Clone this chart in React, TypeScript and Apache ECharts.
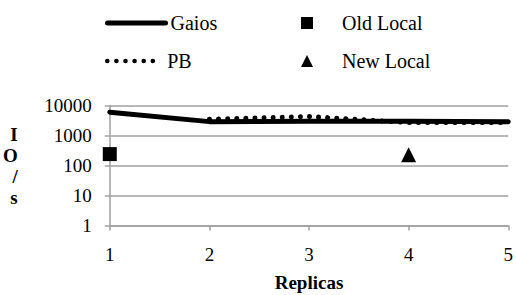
import React, { useEffect, useRef } from "react";
import * as echarts from "echarts";

const replicas = [1, 2, 3, 4, 5];
const gaios = [6000, 2900, 3000, 3000, 2900];
const pb: (number | null)[] = [null, 3500, 4300, 2700, 2700];
const oldLocal = [[1, 240]];
const newLocal = [[4, 230]];
const yTicks = [1, 10, 100, 1000, 10000];

const FONT = "Liberation Serif";

export default function App() {
  const ref = useRef<HTMLDivElement>(null);
  useEffect(() => {
    const chart = echarts.init(ref.current!, null, { renderer: "svg" });
    const legendText = { fontFamily: FONT, fontSize: 20, color: "#000" };
    const hideSym = { opacity: 0 };
    chart.setOption({
      animation: false,
      backgroundColor: "#fff",
      textStyle: { fontFamily: FONT },
      legend: [
        {
          data: ["Gaios"], left: 100, top: 8, itemWidth: 58, itemHeight: 14, itemGap: 0,
          itemStyle: hideSym, lineStyle: { width: 5, cap: "round", color: "#000" },
          textStyle: legendText, selectedMode: false,
        },
        {
          data: ["PB"], left: 100, top: 46, itemWidth: 54, itemHeight: 14,
          itemStyle: hideSym, lineStyle: { width: 4.5, type: [0.1, 9], cap: "round", color: "#000" },
          textStyle: { ...legendText, padding: [0, 0, 0, 1] }, selectedMode: false,
        },
        {
          data: ["Old Local"], left: 296, top: 8, itemWidth: 12, itemHeight: 12,
          textStyle: { ...legendText, padding: [0, 0, 0, 24] }, selectedMode: false,
        },
        {
          data: ["New Local"], left: 296, top: 46, itemWidth: 12, itemHeight: 12,
          textStyle: { ...legendText, padding: [0, 0, 0, 24] }, selectedMode: false,
        },
      ],
      grid: { left: 109.5, right: 6, top: 105.5, bottom: 69.5, containLabel: false },
      xAxis: {
        type: "value",
        min: 1,
        max: 5,
        interval: 1,
        name: "Replicas",
        nameLocation: "middle",
        nameGap: 47,
        nameTextStyle: { fontFamily: FONT, fontSize: 19, fontWeight: "bold", color: "#000" },
        axisLine: { show: true, lineStyle: { color: "#a0a0a0", width: 1.5 } },
        axisTick: { show: true, length: 5, lineStyle: { color: "#a0a0a0", width: 1.5 } },
        axisLabel: { fontFamily: FONT, fontSize: 19, color: "#000", margin: 19 },
        splitLine: { show: false },
      },
      yAxis: {
        type: "log",
        logBase: 10,
        min: yTicks[0],
        max: yTicks[yTicks.length - 1],
        name: "I\nO\n/\ns",
        nameLocation: "middle",
        nameRotate: 0,
        nameGap: 92,
        nameTextStyle: { fontFamily: FONT, fontSize: 19, fontWeight: "bold", color: "#000", lineHeight: 21 },
        axisLine: { show: true, lineStyle: { color: "#a0a0a0", width: 1.5 } },
        axisTick: { show: true, length: 5, lineStyle: { color: "#a0a0a0", width: 1.5 } },
        axisLabel: {
          fontFamily: FONT, fontSize: 19, color: "#000", margin: 18,
          formatter: (v: number) => String(Math.round(v)),
        },
        splitLine: { show: true, lineStyle: { color: "#a0a0a0", width: 1.5 } },
      },
      series: [
        {
          name: "Gaios",
          type: "line",
          data: replicas.map((r, i) => [r, gaios[i]]),
          showSymbol: false,
          symbol: "none",
          lineStyle: { color: "#000", width: 5, cap: "round" },
          itemStyle: { color: "#000" },
          z: 3,
        },
        {
          name: "PB",
          type: "line",
          data: replicas.map((r, i) => [r, pb[i]]),
          showSymbol: false,
          symbol: "none",
          lineStyle: { color: "#000", width: 5, type: [0.1, 9], cap: "round" },
          itemStyle: { color: "#000" },
          z: 4,
        },
        {
          name: "Old Local",
          type: "scatter",
          data: oldLocal,
          symbol: "rect",
          symbolSize: 14,
          itemStyle: { color: "#000", opacity: 1 },
        },
        {
          name: "New Local",
          type: "scatter",
          data: newLocal,
          symbol: "triangle",
          symbolSize: 15,
          itemStyle: { color: "#000", opacity: 1 },
        },
      ],
    });
    return () => chart.dispose();
  }, []);
  return (
    <div
      ref={ref}
      style={{ position: "fixed", left: 0, top: 0, width: 516, height: 295 }}
    />
  );
}
